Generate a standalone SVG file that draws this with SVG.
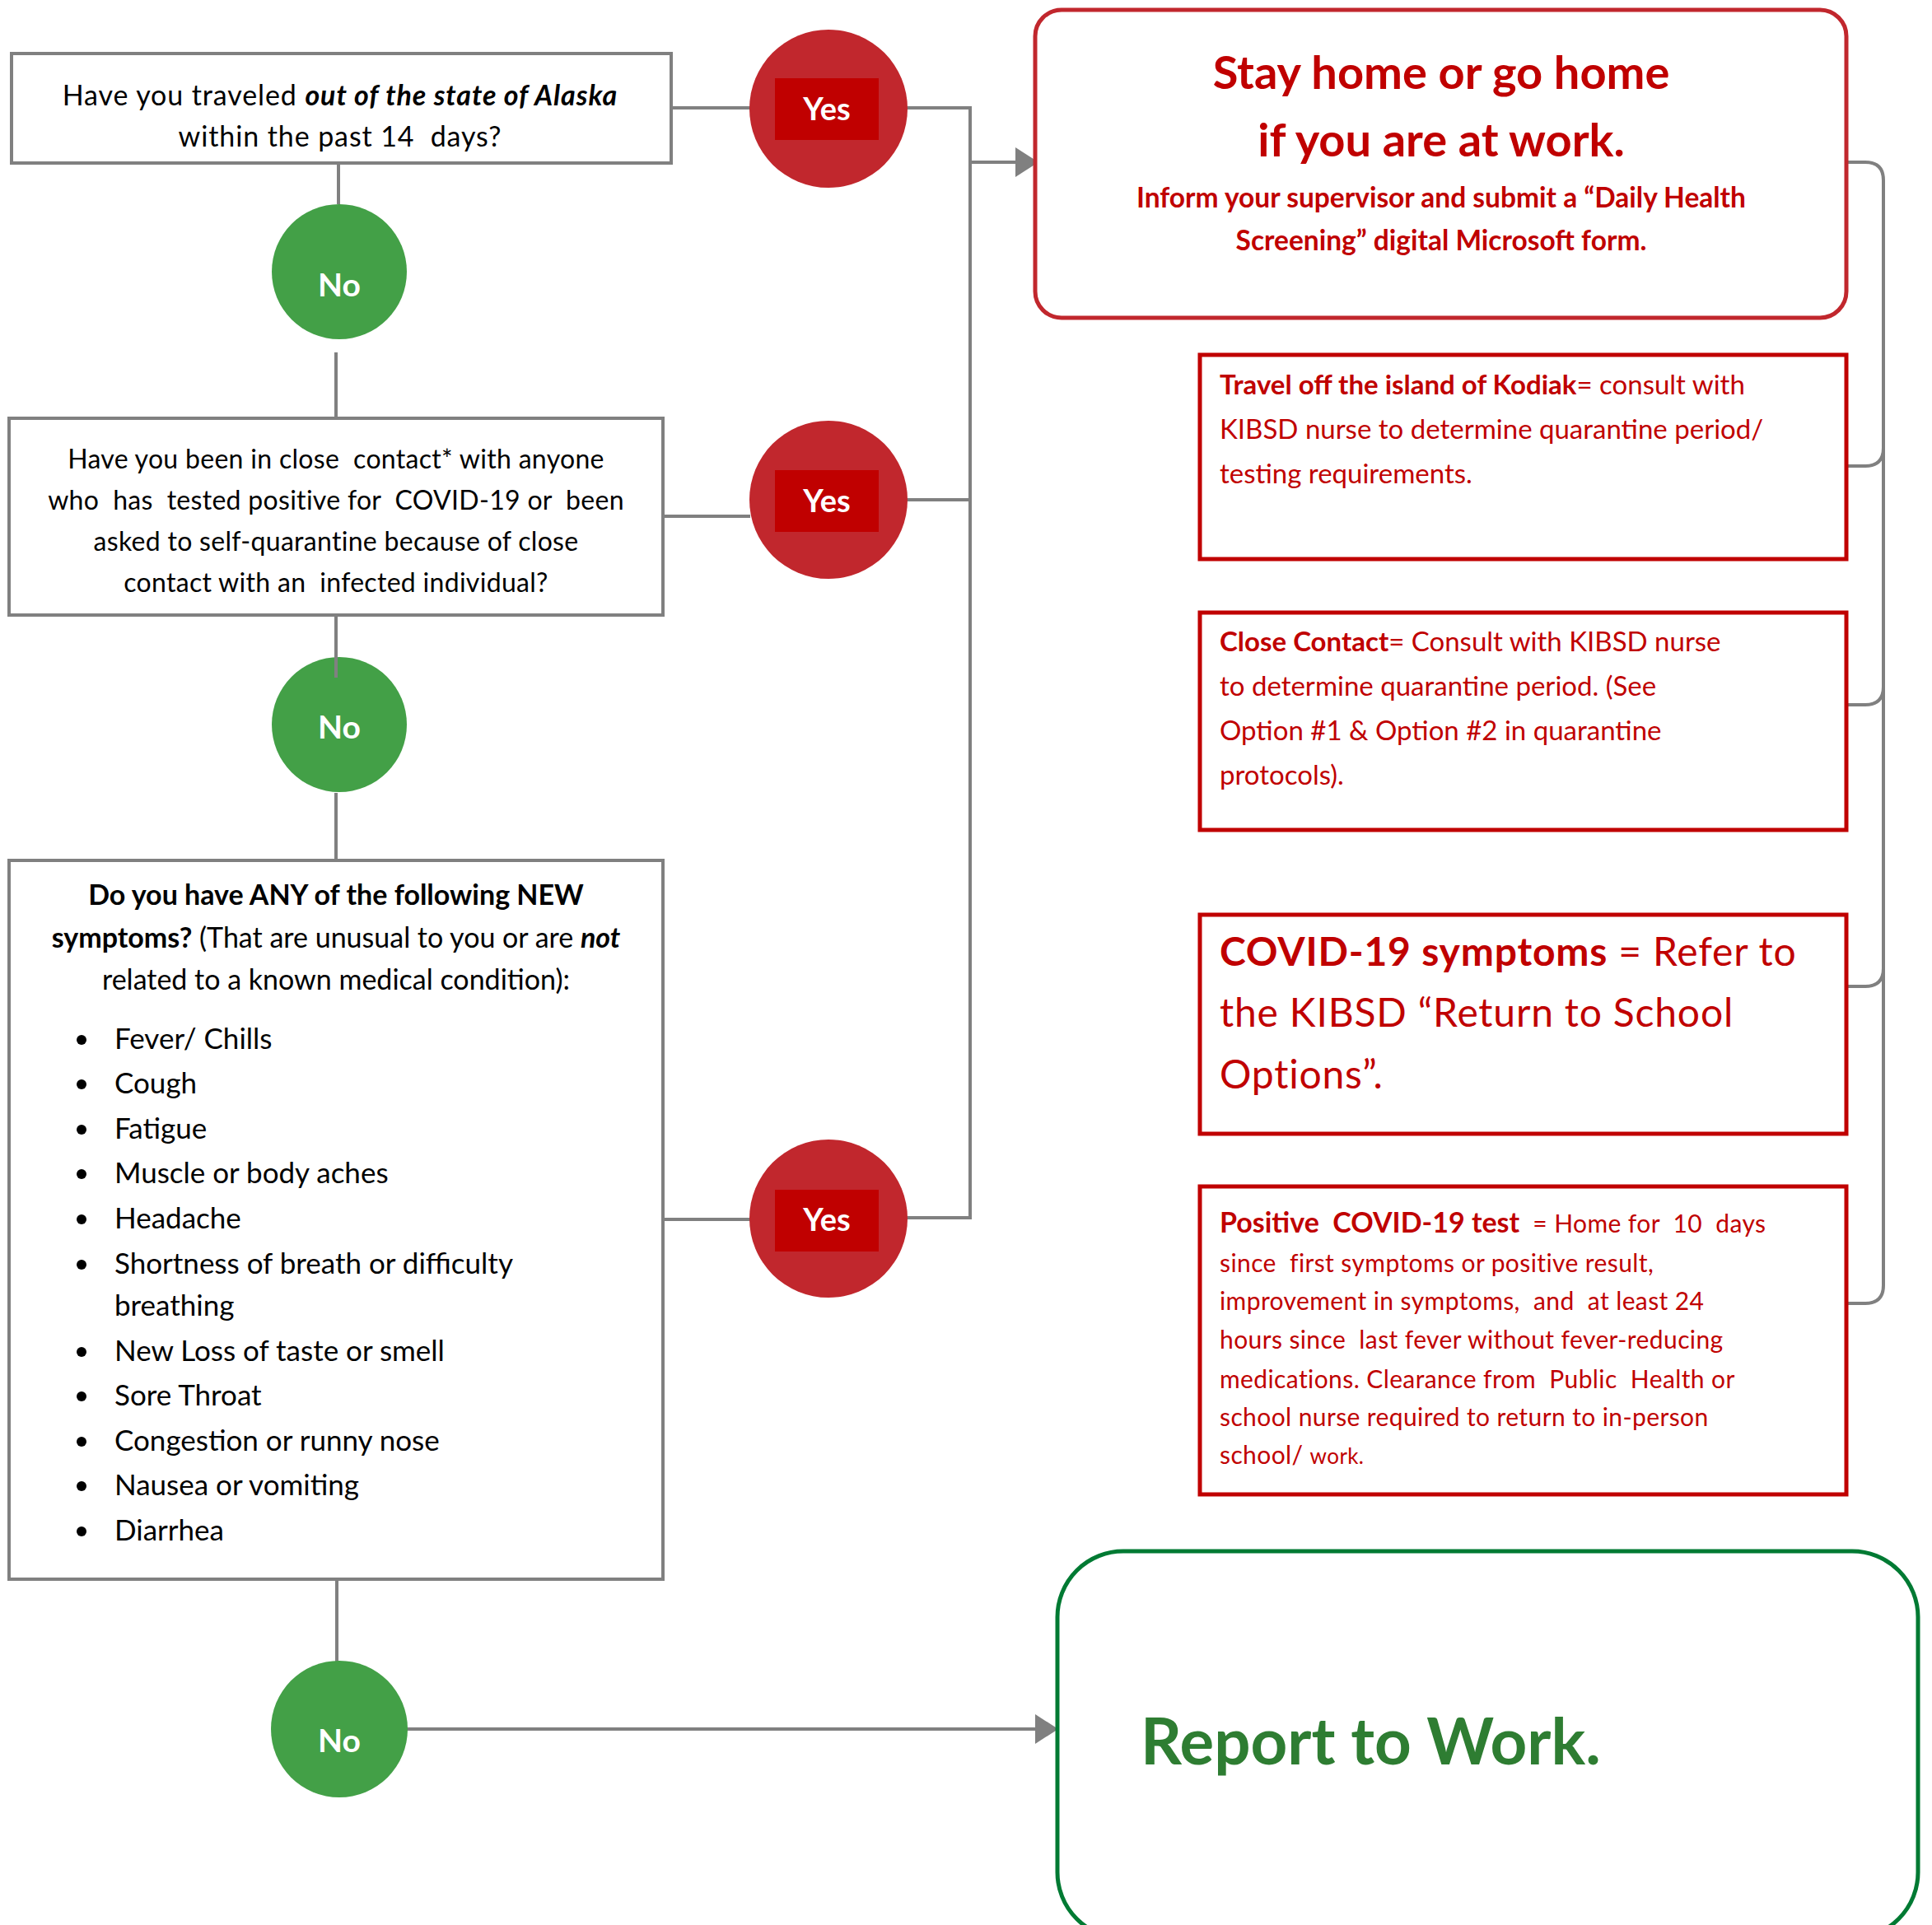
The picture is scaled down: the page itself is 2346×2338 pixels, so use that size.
<svg xmlns="http://www.w3.org/2000/svg" width="2346" height="2338" viewBox="0 0 2346 2338" xml:space="preserve">
<style>
text{font-family:Lato,"Open Sans","Liberation Sans",sans-serif;white-space:pre}
.q{fill:none;stroke:#808080;stroke-width:4}
.qt{font-size:34px;fill:#000;text-anchor:middle;letter-spacing:0.9px}
.qt2{font-size:32px;fill:#000;text-anchor:middle;letter-spacing:0.3px}
.qt3{font-size:34px;fill:#000;text-anchor:middle}
.b{font-weight:700}
.bi{font-weight:700;font-style:italic}
.yesc{fill:#C1272D}
.yesr{fill:#C00000}
.yt{font-size:38px;font-weight:700;fill:#fff;text-anchor:middle}
.nt{font-size:39px;font-weight:700;fill:#fff;text-anchor:middle}
.noc{fill:#43A047}
.info{fill:#fff;stroke:#C00000;stroke-width:5}
.it{fill:#C00000}
.con{fill:none;stroke:#808080;stroke-width:4}
.bul{font-size:35px;fill:#000}
</style>
<defs>
<marker id="ah2" viewBox="0 0 28 36" refX="27" refY="18" markerWidth="28" markerHeight="36" markerUnits="userSpaceOnUse" orient="auto">
<path d="M0,0 L28,18 L0,36 z" fill="#808080"/>
</marker>
</defs>
<rect width="2346" height="2338" fill="#fff"/>

<g id="connectors">
<line class="con" x1="816" y1="131" x2="911" y2="131"/>
<line class="con" x1="805" y1="627" x2="911" y2="627"/>
<line class="con" x1="805" y1="1481" x2="911" y2="1481"/>
<polyline class="con" points="1101,131 1178,131 1178,1479 1101,1479"/>
<line class="con" x1="1101" y1="607" x2="1178" y2="607"/>
<line class="con" x1="1178" y1="197" x2="1260" y2="197" marker-end="url(#ah2)"/>
<line class="con" stroke-width="3" x1="411" y1="199" x2="411" y2="248"/>
<line class="con" stroke-width="3" x1="408" y1="428" x2="408" y2="508"/>
<line class="con" stroke-width="3" x1="408" y1="747" x2="408" y2="823"/>
<line class="con" stroke-width="3" x1="408" y1="963" x2="408" y2="1045"/>
<line class="con" stroke-width="3" x1="409" y1="1918" x2="409" y2="2020"/>
<line class="con" stroke-width="5" x1="494" y1="2100" x2="1284" y2="2100" marker-end="url(#ah2)"/>
<path class="con" stroke-width="5" d="M2236,197 H2265 Q2287,197 2287,219 V1561 Q2287,1583 2265,1583 H2243"/>
<path class="con" stroke-width="5" d="M2287,544 Q2287,566 2265,566 H2243"/>
<path class="con" stroke-width="5" d="M2287,834 Q2287,856 2265,856 H2243"/>
<path class="con" stroke-width="5" d="M2287,1176 Q2287,1198 2265,1198 H2243"/>
</g>

<g id="q1">
<rect class="q" x="14" y="65" width="801" height="133"/>
<text class="qt" x="413" y="128">Have you traveled <tspan class="bi">out of the state of Alaska</tspan></text>
<text class="qt" x="413" y="178">within the past 14  days?</text>
</g>

<g id="yes1">
<circle class="yesc" cx="1006" cy="132" r="96"/>
<rect class="yesr" x="941" y="95" width="126" height="75"/>
<text class="yt" x="1004" y="146">Yes</text>
</g>

<g id="no1">
<circle class="noc" cx="412" cy="330" r="82"/>
<text class="nt" x="412" y="360">No</text>
</g>

<g id="q2">
<rect class="q" x="11" y="508" width="794" height="239"/>
<text class="qt2" x="408" y="569">Have you been in close  contact* with anyone</text>
<text class="qt2" x="408" y="619">who  has  tested positive for  COVID-19 or  been</text>
<text class="qt2" x="408" y="669">asked to self-quarantine because of close</text>
<text class="qt2" x="408" y="719">contact with an  infected individual?</text>
</g>

<g id="yes2">
<circle class="yesc" cx="1006" cy="607" r="96"/>
<rect class="yesr" x="941" y="571" width="126" height="75"/>
<text class="yt" x="1004" y="622">Yes</text>
</g>

<g id="no2">
<circle class="noc" cx="412" cy="880" r="82"/>
<line class="con" stroke-width="3" x1="408" y1="797" x2="408" y2="823"/>
<text class="nt" x="412" y="897">No</text>
</g>

<g id="q3">
<rect class="q" x="11" y="1045" width="794" height="873"/>
<text class="qt3" x="408" y="1099"><tspan class="b">Do you have ANY of the following NEW</tspan></text>
<text class="qt3" x="408" y="1151"><tspan class="b">symptoms?</tspan> (That are unusual to you or are <tspan class="bi">not</tspan></text>
<text class="qt3" x="408" y="1202">related to a known medical condition):</text>
<g fill="#000">
<circle cx="99" cy="1263" r="6"/><circle cx="99" cy="1317" r="6"/><circle cx="99" cy="1372" r="6"/><circle cx="99" cy="1426" r="6"/><circle cx="99" cy="1481" r="6"/><circle cx="99" cy="1536" r="6"/><circle cx="99" cy="1642" r="6"/><circle cx="99" cy="1696" r="6"/><circle cx="99" cy="1751" r="6"/><circle cx="99" cy="1805" r="6"/><circle cx="99" cy="1860" r="6"/>
</g>
<text class="bul" x="139" y="1274">Fever/ Chills</text>
<text class="bul" x="139" y="1328">Cough</text>
<text class="bul" x="139" y="1383">Fatigue</text>
<text class="bul" x="139" y="1437">Muscle or body aches</text>
<text class="bul" x="139" y="1492">Headache</text>
<text class="bul" x="139" y="1547">Shortness of breath or difficulty</text>
<text class="bul" x="139" y="1598">breathing</text>
<text class="bul" x="139" y="1653">New Loss of taste or smell</text>
<text class="bul" x="139" y="1707">Sore Throat</text>
<text class="bul" x="139" y="1762">Congestion or runny nose</text>
<text class="bul" x="139" y="1816">Nausea or vomiting</text>
<text class="bul" x="139" y="1871">Diarrhea</text>
</g>

<g id="yes3">
<circle class="yesc" cx="1006" cy="1480" r="96"/>
<rect class="yesr" x="941" y="1445" width="126" height="75"/>
<text class="yt" x="1004" y="1495">Yes</text>
</g>

<g id="no3">
<circle class="noc" cx="412" cy="2100" r="83"/>
<text class="nt" x="412" y="2128">No</text>
</g>

<g id="stayhome">
<rect x="1257" y="12" width="985" height="374" rx="32" fill="#fff" stroke="#C1272D" stroke-width="5"/>
<text class="b it" x="1750" y="108" text-anchor="middle" style="font-size:56px">Stay home or go home</text>
<text class="b it" x="1750" y="190" text-anchor="middle" style="font-size:56px">if you are at work.</text>
<text class="b it" x="1750" y="252" text-anchor="middle" style="font-size:33.5px">Inform your supervisor and submit a “Daily Health</text>
<text class="b it" x="1750" y="304" text-anchor="middle" style="font-size:33.5px">Screening” digital Microsoft form.</text>
</g>

<g id="travel">
<rect class="info" x="1457" y="431" width="785" height="248"/>
<text class="it" x="1481" y="479" style="font-size:33px"><tspan class="b">Travel off the island of Kodiak</tspan>= consult with</text>
<text class="it" x="1481" y="533" style="font-size:33px">KIBSD nurse to determine quarantine period/</text>
<text class="it" x="1481" y="587" style="font-size:33px">testing requirements.</text>
</g>

<g id="closecontact">
<rect class="info" x="1457" y="744" width="785" height="264"/>
<text class="it" x="1481" y="791" style="font-size:33px"><tspan class="b">Close Contact</tspan>= Consult with KIBSD nurse</text>
<text class="it" x="1481" y="845" style="font-size:33px">to determine quarantine period. (See</text>
<text class="it" x="1481" y="899" style="font-size:33px">Option #1 &amp; Option #2 in quarantine</text>
<text class="it" x="1481" y="953" style="font-size:33px">protocols).</text>
</g>

<g id="covidsymptoms">
<rect class="info" x="1457" y="1111" width="785" height="266"/>
<text class="it" x="1481" y="1173" style="font-size:48px;letter-spacing:0.8px"><tspan class="b">COVID-19 symptoms</tspan> = Refer to</text>
<text class="it" x="1481" y="1247" style="font-size:48px;letter-spacing:0.8px">the KIBSD “Return to School</text>
<text class="it" x="1481" y="1322" style="font-size:48px;letter-spacing:0.8px">Options”.</text>
</g>

<g id="positive">
<rect class="info" x="1457" y="1441" width="785" height="374"/>
<text class="it" x="1481" y="1497" style="font-size:30px;letter-spacing:0.4px"><tspan class="b" style="font-size:34px;letter-spacing:0">Positive  COVID-19 test</tspan>  = Home for  10  days</text>
<text class="it" x="1481" y="1545" style="font-size:30px;letter-spacing:0.4px">since  first symptoms or positive result,</text>
<text class="it" x="1481" y="1591" style="font-size:30px;letter-spacing:0.4px">improvement in symptoms,  and  at least 24</text>
<text class="it" x="1481" y="1638" style="font-size:30px;letter-spacing:0.4px">hours since  last fever without fever-reducing</text>
<text class="it" x="1481" y="1686" style="font-size:30px;letter-spacing:0.4px">medications. Clearance from  Public  Health or</text>
<text class="it" x="1481" y="1732" style="font-size:30px;letter-spacing:0.4px">school nurse required to return to in-person</text>
<text class="it" x="1481" y="1778" style="font-size:30px;letter-spacing:0.4px">school/ <tspan style="font-size:26px">work.</tspan></text>
</g>

<g id="report">
<rect x="1284" y="1884" width="1045" height="470" rx="80" fill="#fff" stroke="#007A33" stroke-width="5"/>
<text class="b" x="1385" y="2143" fill="#2E7D32" style="font-size:78px">Report to Work.</text>
</g>
</svg>
